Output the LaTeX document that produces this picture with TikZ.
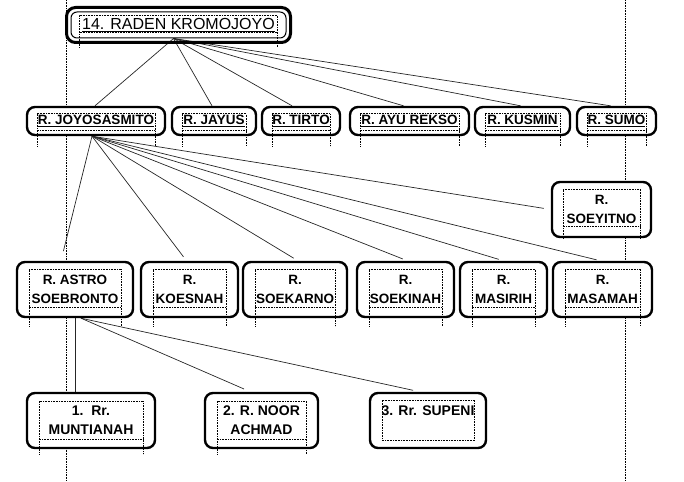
\documentclass[tikz,border=0pt]{standalone}
\usepackage{fontspec}
\setmainfont{Liberation Sans}
\usetikzlibrary{calc}
\pgfdeclarelayer{bg}
\pgfsetlayers{bg,main}
\tikzset{
  box/.style={draw=black, line width=2.4pt, rounded corners=8pt, fill=white, inner sep=0pt, align=center, text=black},
  topbox/.style={draw=black, line width=1pt, rounded corners=6pt, fill=white, inner sep=0pt, align=center, font=\fontsize{16}{19}\selectfont},
  lvtwo/.style={box, minimum height=28pt, font=\fontsize{13.5}{16}\selectfont\bfseries},
  lvthree/.style={box, minimum height=55pt, font=\fontsize{13.5}{19}\selectfont\bfseries},
  lvfour/.style={box, minimum height=55pt, font=\fontsize{14}{19}\selectfont\bfseries},
  link/.style={draw=black!85, line width=0.7pt},
  dframe/.style={densely dotted, line width=0.6pt},
  marginline/.style={densely dotted, line width=0.6pt}
}
% dotted text frame: node, side inset, top inset, hline above bottom, extension below bottom
\newcommand\dfr[5]{%
  \draw[dframe] ($(#1.south west)+(#2,#5)$) -- ($(#1.north west)+(#2,#3)$) -- ($(#1.north east)+(-#2,#3)$) -- ($(#1.south east)+(-#2,#5)$);
  \draw[dframe] ($(#1.south west)+(#2,-#4)$) -- ($(#1.south east)+(-#2,-#4)$);}
\begin{document}
\begin{tikzpicture}[x=1pt,y=-1pt]
\useasboundingbox (0,0) rectangle (684,481);

% top
\node[topbox, minimum width=215pt, minimum height=26pt] (top) at (178.5,25) {\underline{14. RADEN KROMOJOYO}};
\draw[line width=3pt, rounded corners=9pt] ($(top.north west)+(-4,-4)$) rectangle ($(top.south east)+(4,4)$);

% level 2
\node[lvtwo, minimum width=138pt] (joyo) at (96,121) {\underline{R. JOYOSASMITO}};
\node[lvtwo, minimum width=84pt] (jayus) at (214,121) {\underline{R. JAYUS}};
\node[lvtwo, minimum width=78pt] (tirto) at (301,121) {\underline{R. TIRTO}};
\node[lvtwo, minimum width=119pt] (ayu) at (409.5,121) {\underline{R. AYU REKSO}};
\node[lvtwo, minimum width=95pt] (kusmin) at (522.5,121) {\underline{R. KUSMIN}};
\node[lvtwo, minimum width=79pt] (sumo) at (616.5,121) {\underline{R. SUMO}};

% level 3
\node[lvthree, minimum width=99pt] (soeyitno) at (601.5,209.5) {R.\\SOEYITNO};
\node[lvthree, minimum width=116pt] (astro) at (75,289.5) {R. ASTRO\\SOEBRONTO};
\node[lvthree, minimum width=97pt] (koesnah) at (189.5,289.5) {R.\\KOESNAH};
\node[lvthree, minimum width=104pt] (soekarno) at (295,289.5) {R.\\SOEKARNO};
\node[lvthree, minimum width=97pt] (soekinah) at (405.5,289.5) {R.\\SOEKINAH};
\node[lvthree, minimum width=87pt] (masirih) at (503.5,289.5) {R.\\MASIRIH};
\node[lvthree, minimum width=99pt] (masamah) at (602.5,289.5) {R.\\MASAMAH};

% level 4
\node[lvfour, minimum width=128pt] (munti) at (91,420.5) {1.\ \ Rr.\\MUNTIANAH};
\node[lvfour, minimum width=113pt] (noor) at (261.5,420.5) {2. R. NOOR\\ACHMAD};
\node[lvfour, minimum width=116pt] (supeni) at (428,420.5) {3. Rr. SUPENI\\\mbox{}};

\begin{pgfonlayer}{bg}
  \draw[marginline] (66,0) -- (66,481);
  \draw[marginline] (625,0) -- (625,481);
  \coordinate (t0) at ([xshift=-5pt]top.south);
  \draw[link] (t0) -- ([xshift=-1pt]joyo.north);
  \draw[link] (t0) -- ([xshift=-2pt]jayus.north);
  \draw[link] (t0) -- ([xshift=-9pt]tirto.north);
  \draw[link] (t0) -- ([xshift=-6pt]ayu.north);
  \draw[link] (t0) -- ([xshift=-2pt]kusmin.north);
  \draw[link] (t0) -- ([xshift=-6pt]sumo.north);
  \coordinate (j0) at ([xshift=-4pt]joyo.south);
  \draw[link, shorten >=10pt] (j0) -- ([xshift=-14pt]astro.north);
  \draw[link, shorten >=5pt] (j0) -- ([xshift=-3pt]koesnah.north);
  \draw[link, shorten >=5pt] (j0) -- ([xshift=3pt]soekarno.north);
  \draw[link, shorten >=5pt] (j0) -- ([xshift=2pt]soekinah.north);
  \draw[link, shorten >=5pt] (j0) -- (masirih.north);
  \draw[link, shorten >=4pt] (j0) -- ([xshift=-2pt]masamah.north);
  \draw[link, shorten >=7pt] (j0) -- (soeyitno.west);
  \coordinate (a0) at (astro.south);
  \coordinate (a1) at ([xshift=6pt]astro.south);
  \draw[link] (a0) -- (a0 |- munti.north);
  \draw[link, shorten >=7pt] (a1) -- ([xshift=-11pt]noor.north);
  \draw[link, shorten >=7pt] (a1) -- ([xshift=-8pt]supeni.north);
\end{pgfonlayer}

% dotted text frames
\dfr{top}{9}{4}{6}{9}
\foreach \n in {joyo,jayus,tirto,ayu,kusmin,sumo}{\dfr{\n}{11}{8}{6}{10}}
\dfr{soeyitno}{12}{8}{12}{0}
\foreach \n in {astro,koesnah,soekarno,soekinah,masirih,masamah}{\dfr{\n}{13}{8}{11}{8}}
\dfr{munti}{13}{9}{10}{5}
\dfr{noor}{13}{9}{10}{5}
\dfr{supeni}{13}{8}{9}{-9}
\end{tikzpicture}
\end{document}
